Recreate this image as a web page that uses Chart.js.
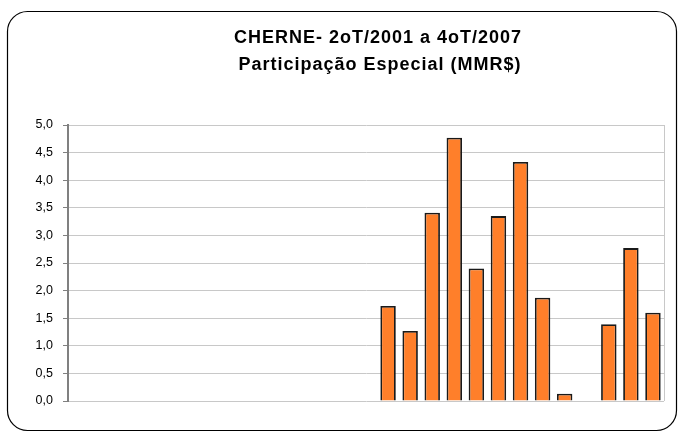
<!DOCTYPE html>
<html>
<head>
<meta charset="utf-8">
<script src="https://cdn.jsdelivr.net/npm/chart.js@4.4.1/dist/chart.umd.min.js"></script>
<style>
  html, body { margin: 0; padding: 0; background: #fff; }
  #wrap { width: 678px; height: 432px; position: relative; }
</style>
</head>
<body>
<div id="wrap"><canvas id="pe"></canvas></div>
<script>
// trimestres 2oT/2001 .. 4oT/2007
const quarters = [
  "2T/01", "3T/01", "4T/01",
  "1T/02", "2T/02", "3T/02", "4T/02",
  "1T/03", "2T/03", "3T/03", "4T/03",
  "1T/04", "2T/04", "3T/04", "4T/04",
  "1T/05", "2T/05", "3T/05", "4T/05",
  "1T/06", "2T/06", "3T/06", "4T/06",
  "1T/07", "2T/07", "3T/07", "4T/07"
];

// Participação Especial (MM R$)
const peValues = [
  null, null, null,
  null, null, null, null,
  null, null, null, null,
  null, null, null, 1.72,
  1.27, 3.41, 4.77, 2.40,
  3.35, 4.33, 1.87, 0.13,
  null, 1.39, 2.77, 1.60
];

const titleLines = ["CHERNE- 2oT/2001 a 4oT/2007", "Participação Especial (MMR$)"];
const yTicks = [0, 0.5, 1, 1.5, 2, 2.5, 3, 3.5, 4, 4.5, 5];

const FONT = "'Liberation Sans', Arial, sans-serif";

const framePlugin = {
  id: "frame",
  beforeDraw(chart) {
    const c = chart.ctx;
    c.save();
    c.fillStyle = "#fff";
    c.fillRect(0, 0, chart.width, chart.height);
    c.restore();
  },
  afterDraw(chart) {
    const c = chart.ctx;
    const a = chart.chartArea;
    c.save();
    // borda direita da área do gráfico
    c.strokeStyle = "#c8c8c8";
    c.lineWidth = 1;
    c.beginPath();
    c.moveTo(Math.round(a.right) + 0.5, a.top);
    c.lineTo(Math.round(a.right) + 0.5, a.bottom);
    c.stroke();

    // moldura arredondada
    c.strokeStyle = "#000";
    c.lineWidth = 1.2;
    c.beginPath();
    c.roundRect(7.5, 11.5, 669, 419, 20);
    c.stroke();

    // título
    c.fillStyle = "#000";
    c.font = "bold 18px " + FONT;
    c.letterSpacing = "1px";
    c.textAlign = "center";
    c.textBaseline = "alphabetic";
    c.fillText(titleLines[0], 378, 43);
    c.fillText(titleLines[1], 380, 70);
    c.restore();
  }
};

const ctx = document.getElementById("pe").getContext("2d");

new Chart(ctx, {
  type: "bar",
  data: {
    labels: quarters,
    datasets: [{
      label: "Participação Especial",
      data: peValues,
      backgroundColor: "#ff7f2a",
      borderColor: "#1a1a1a",
      borderWidth: 1.8,
      categoryPercentage: 1,
      barPercentage: 0.7
    }]
  },
  options: {
    responsive: true,
    maintainAspectRatio: false,
    animation: false,
    layout: {
      padding: { top: 125, bottom: 31, right: 14, left: 0 }
    },
    plugins: {
      legend: { display: false },
      title: { display: false },
      tooltip: { enabled: false }
    },
    scales: {
      x: {
        display: false
      },
      y: {
        min: 0,
        max: 5,
        afterFit: (s) => { s.width = 68; },
        afterBuildTicks: (s) => { s.ticks = yTicks.map(v => ({ value: v })); },
        border: { color: "#808080", width: 2 },
        grid: {
          color: "#c8c8c8",
          lineWidth: 1,
          tickLength: 5,
          tickColor: "#808080"
        },
        ticks: {
          padding: 10,
          color: "#000",
          font: { family: FONT, size: 12.5 },
          callback: (v) => Number(v).toFixed(1).replace(".", ",")
        }
      }
    }
  },
  plugins: [framePlugin]
});
</script>
</body>
</html>
